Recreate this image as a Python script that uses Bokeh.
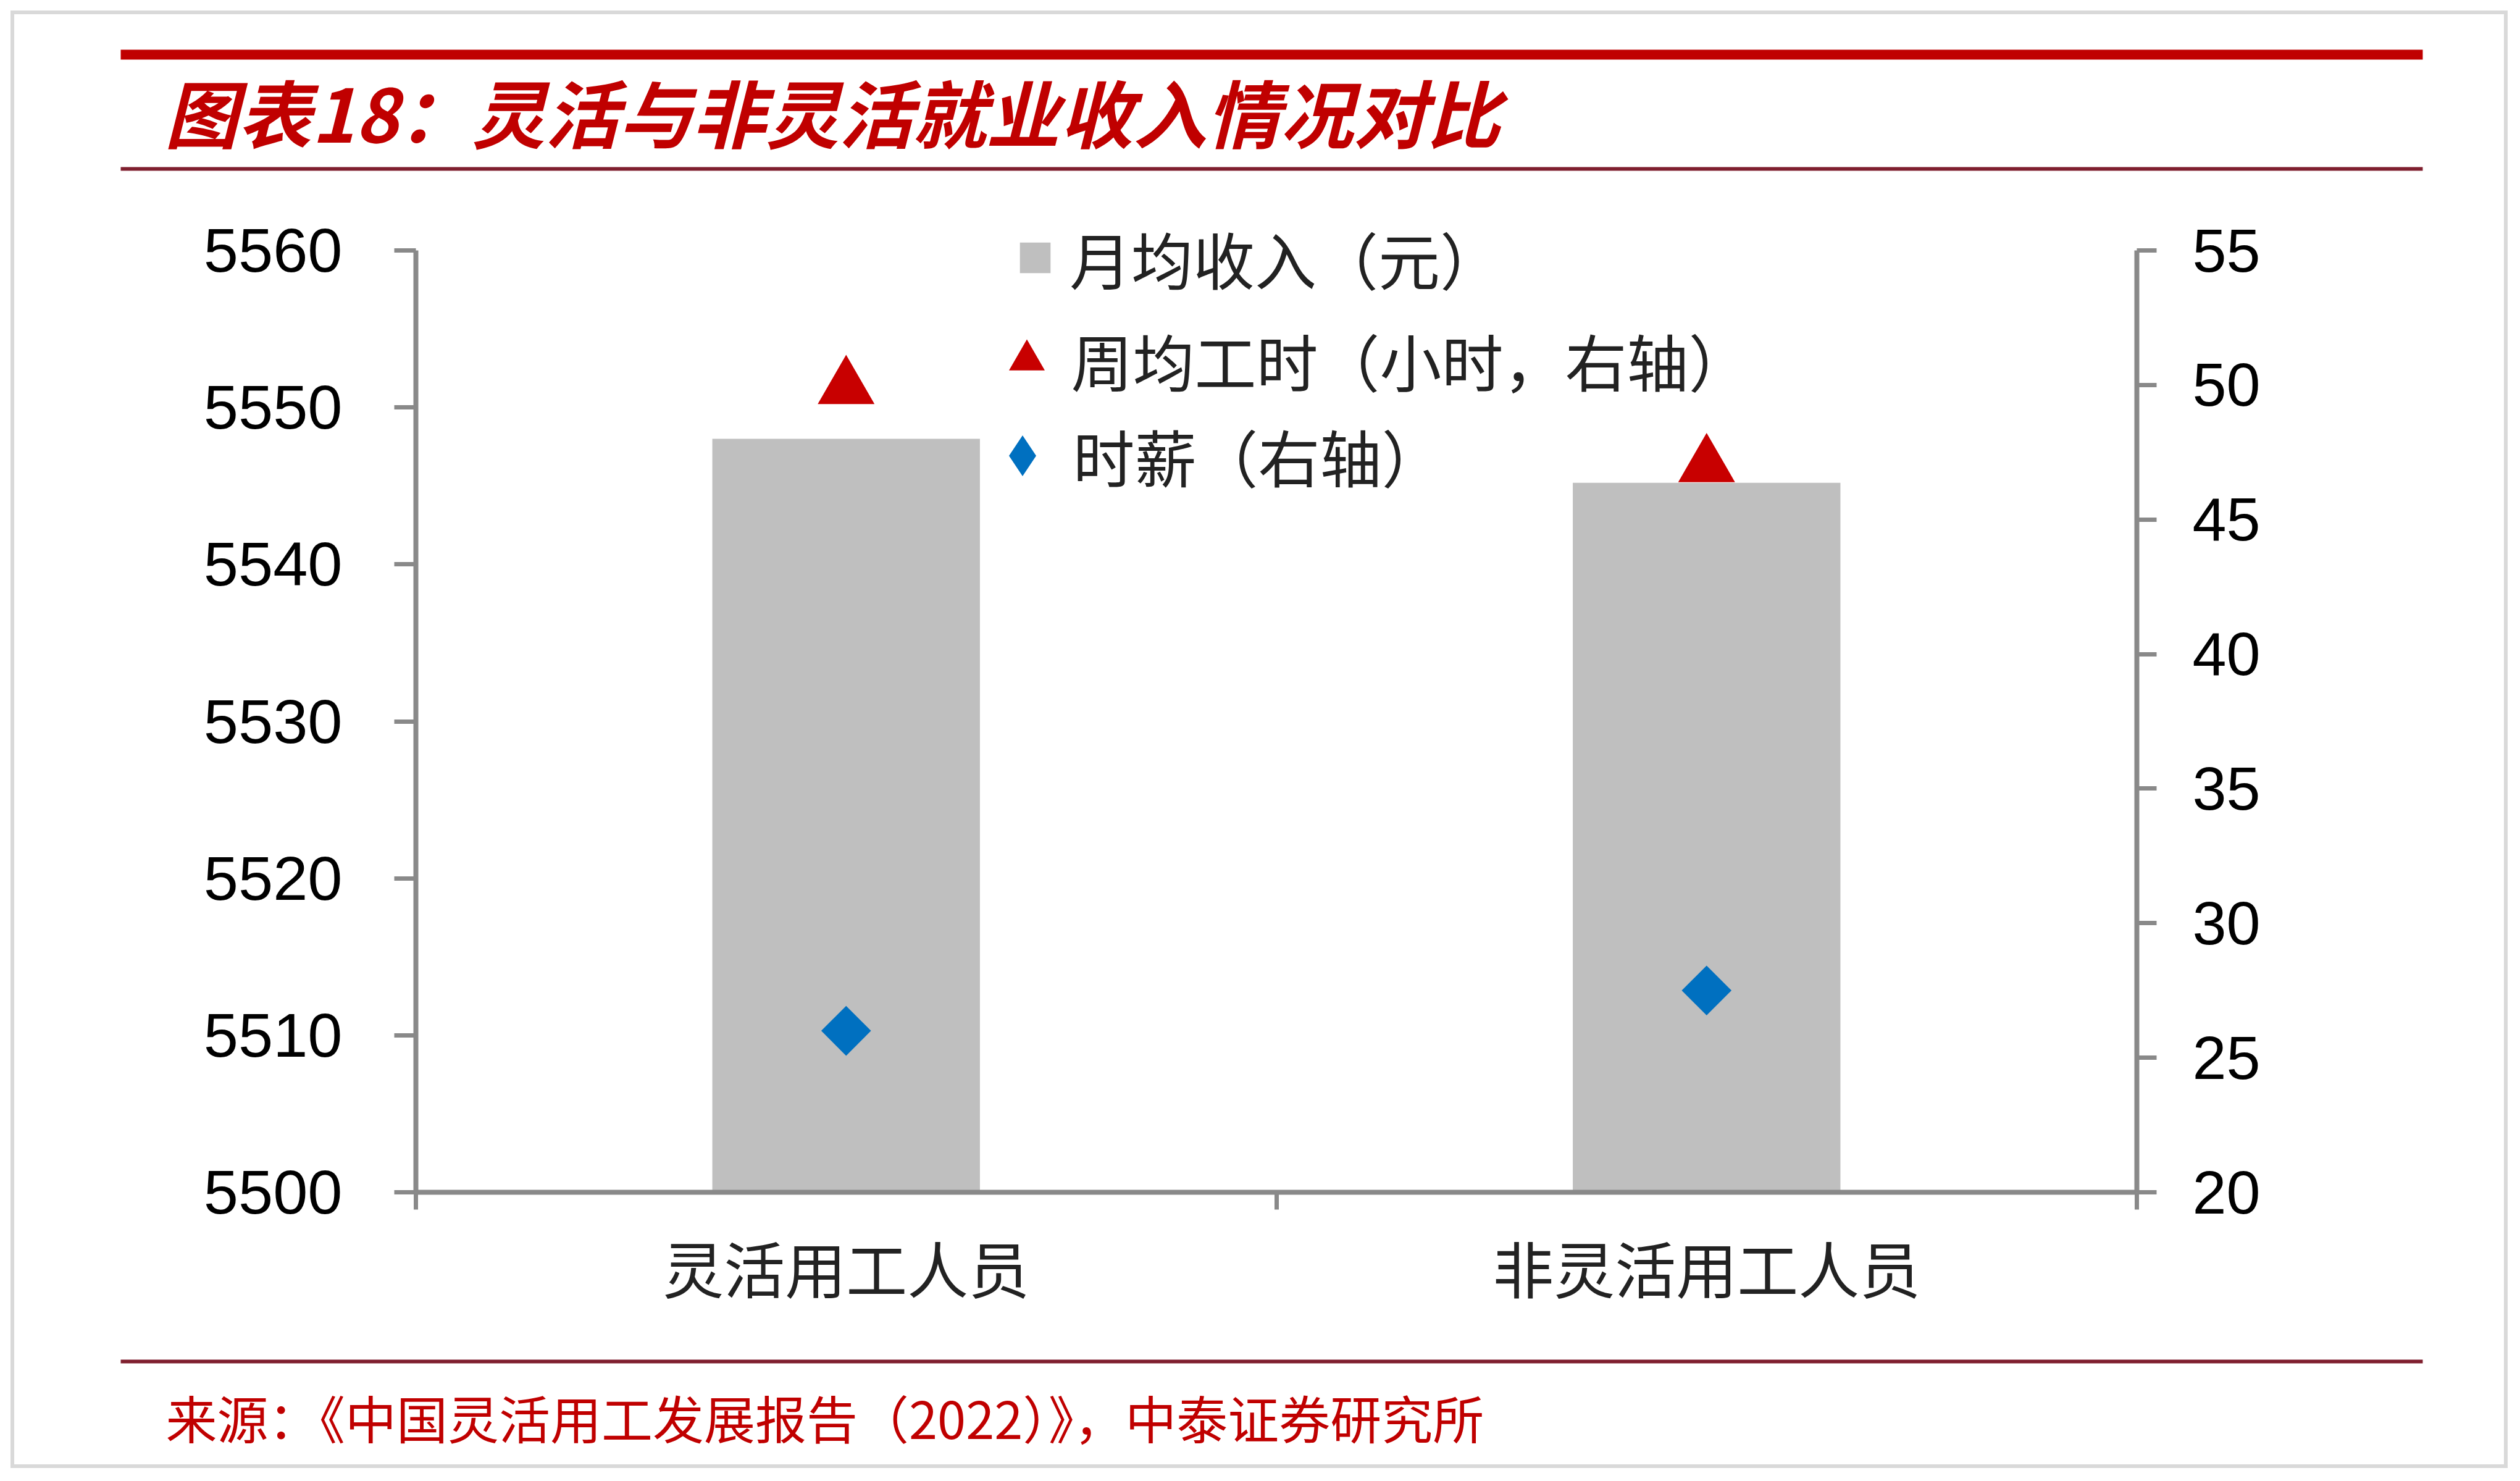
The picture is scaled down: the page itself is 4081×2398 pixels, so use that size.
import math
from bokeh.plotting import figure
from bokeh.layouts import column
from bokeh.models import (Range1d, LinearAxis, FixedTicker, Legend, LegendItem,
                          Label, BoxAnnotation, ColumnDataSource)
from bokeh.embed import file_html
from bokeh.resources import INLINE

# ---------------- data ----------------
categories = ["灵活用工人员", "非灵活用工人员"]
monthly_income = [5548, 5545.2]        # 月均收入（元）, left axis
weekly_hours = [49.9, 47.0]            # 周均工时（小时）, right axis
hourly_wage = [26.0, 27.5]             # 时薪, right axis
series_names = ["月均收入（元）", "周均工时（小时，右轴）", "时薪（右轴）"]
left_ticks = [5500, 5510, 5520, 5530, 5540, 5550, 5560]
right_ticks = [20, 25, 30, 35, 40, 45, 50, 55]
title_text = "图表18：灵活与非灵活就业收入情况对比"
source_text = "来源：《中国灵活用工发展报告（2022）》，中泰证券研究所"

# ---------------- layout constants (page px) ----------------
W = 4078
H = 2394
HEAD_H = 292                 # header figure height
FOOT_TOP = 2180              # page y where footer starts
FOOT_H = H - FOOT_TOP
AX_L, AX_R = 673, 3460       # left / right axis x
AX_TOP, AX_BOT = 405, 1930   # y of top tick / bottom axis
FRAME_TOP = 330              # frame extends a bit above the top tick
AXC = "#898989"
CJK = "Noto Sans CJK SC"
RED = "#C00000"
MAROON = "#7F1F2E"

def blank_fig(h):
    f = figure(width=W, height=h, output_backend="svg", toolbar_location=None,
               x_range=Range1d(0, W), y_range=Range1d(h, 0),
               x_axis_type=None, y_axis_type=None, min_border=0,
               outline_line_color=None, background_fill_alpha=0,
               border_fill_alpha=0)
    f.grid.visible = False
    f.frame_align = False
    return f

# ---------------- header ----------------
hd = blank_fig(HEAD_H)
hd.add_layout(BoxAnnotation(left=195, right=3923, top=80, bottom=96,
                            fill_color=RED, fill_alpha=1, line_color=None))
hd.add_layout(BoxAnnotation(left=195, right=3923, top=270, bottom=276,
                            fill_color=MAROON, fill_alpha=1, line_color=None))
hd.add_layout(Label(x=266, y=178, text=title_text, text_font=CJK,
                    text_font_size="119px", text_font_style="bold italic",
                    text_color=RED, text_baseline="middle", text_align="left"))

# ---------------- main chart ----------------
MAIN_H = FOOT_TOP - HEAD_H
frame_h = AX_BOT - FRAME_TOP
axis_h = AX_BOT - AX_TOP
l_span = left_ticks[-1] - left_ticks[0]
r_span = right_ticks[-1] - right_ticks[0]

p = figure(width=W, height=MAIN_H, output_backend="svg", toolbar_location=None,
           x_range=Range1d(0, len(categories)),
           y_range=Range1d(left_ticks[0], left_ticks[0] + l_span * frame_h / axis_h),
           min_border_left=AX_L, min_border_right=W - AX_R,
           min_border_top=FRAME_TOP - HEAD_H, min_border_bottom=FOOT_TOP - AX_BOT,
           background_fill_alpha=0, border_fill_alpha=0,
           outline_line_color=None)
p.frame_align = False
p.extra_y_ranges = {"right": Range1d(right_ticks[0],
                                     right_ticks[0] + r_span * frame_h / axis_h)}
p.xgrid.visible = False
p.ygrid.visible = False

xs = [i + 0.5 for i in range(len(categories))]
src = ColumnDataSource(dict(x=xs, income=monthly_income, hours=weekly_hours,
                            wage=hourly_wage, cat=categories))

bars = p.vbar(x="x", top="income", bottom=left_ticks[0], width=0.311, source=src,
              fill_color="#BFBFBF", line_color=None)
tri = p.scatter(x="x", y="hours", source=src, marker="triangle", size=92,
                fill_color="#C80000", line_color=None, y_range_name="right")
dia = p.scatter(x="x", y="wage", source=src, marker="square", angle=math.pi / 4,
                size=57, fill_color="#0070C0", line_color=None, y_range_name="right")
# hidden twin of the wage series, only used for its legend glyph
# (legend markers ignore the rotation angle)
dia_leg = p.scatter(x="x", y="wage", source=src, marker="diamond",
                    fill_color="#0070C0", line_color=None, y_range_name="right",
                    visible=False)

# ---------------- axes ----------------
xa = p.xaxis[0]
xa.ticker = FixedTicker(ticks=xs, minor_ticks=list(range(len(categories) + 1)))
xa.major_label_overrides = {x: c for x, c in zip(xs, categories)}
xa.major_tick_out = 0
xa.major_tick_in = 0
xa.minor_tick_out = 28
xa.minor_tick_in = 0
xa.minor_tick_line_color = AXC
xa.minor_tick_line_width = 7
xa.axis_line_color = AXC
xa.axis_line_width = 8
xa.major_label_standoff = 20
xa.major_label_text_font = CJK
xa.major_label_text_font_size = "99px"
xa.major_label_text_color = "#222222"

ya = p.yaxis[0]
ya.ticker = FixedTicker(ticks=left_ticks)
ya.bounds = (left_ticks[0], left_ticks[-1])
ya.minor_tick_line_color = None
ya.major_tick_out = 35
ya.major_tick_in = 0
ya.major_tick_line_color = AXC
ya.major_tick_line_width = 7
ya.axis_line_color = AXC
ya.axis_line_width = 8
ya.major_label_standoff = 84
ya.major_label_text_font = "Liberation Sans"
ya.major_label_text_font_size = "101px"
ya.major_label_text_color = "#000000"

ra = LinearAxis(y_range_name="right", ticker=FixedTicker(ticks=right_ticks),
                bounds=(right_ticks[0], right_ticks[-1]))
ra.minor_tick_line_color = None
ra.major_tick_out = 32
ra.major_tick_in = 0
ra.major_tick_line_color = AXC
ra.major_tick_line_width = 7
ra.axis_line_color = AXC
ra.axis_line_width = 8
ra.major_label_standoff = 58
ra.major_label_text_font = "Liberation Sans"
ra.major_label_text_font_size = "99px"
ra.major_label_text_color = "#000000"
p.add_layout(ra, "right")

# ---------------- legends (one per item, so each marker gets its own size) ----
ROW = 170
TEXT_X = 1732
def add_legend(renderer, label, g, gx_center, ycenter):
    left = gx_center - g / 2
    standoff = max(0, int(round(TEXT_X - (left + g))))
    lg = Legend(items=[LegendItem(label=label, renderers=[renderer])],
                location=(left - AX_L, AX_BOT - (ycenter + ROW // 2)),
                orientation="vertical",
                glyph_width=g, glyph_height=g, label_height=ROW, label_width=10,
                label_standoff=standoff, padding=0, spacing=0, margin=0,
                border_line_color=None, background_fill_alpha=0,
                inactive_fill_alpha=0,
                label_text_font=CJK, label_text_font_size="100px",
                label_text_color="#222222")
    p.add_layout(lg, "center")

add_legend(bars, series_names[0], 62, 1676, 417)      # square
add_legend(tri, series_names[1], 145, 1662, 582)      # triangle
add_legend(dia_leg, series_names[2], 165, 1655, 737)  # diamond

# ---------------- footer ----------------
ft = blank_fig(FOOT_H)
ft.add_layout(BoxAnnotation(left=195, right=3923, top=21, bottom=27,
                            fill_color=MAROON, fill_alpha=1, line_color=None))
ft.add_layout(Label(x=268, y=113, text=source_text, text_font=CJK,
                    text_font_size="83px", text_color=RED,
                    text_baseline="middle", text_align="left"))

page = column(hd, p, ft, spacing=0,
              styles={"background-color": "white",
                      "box-shadow": "inset 0 0 0 17px #FFFFFF, inset 0 0 0 23px #D9D9D9"})

open("out.html", "w").write(file_html(page, INLINE))
